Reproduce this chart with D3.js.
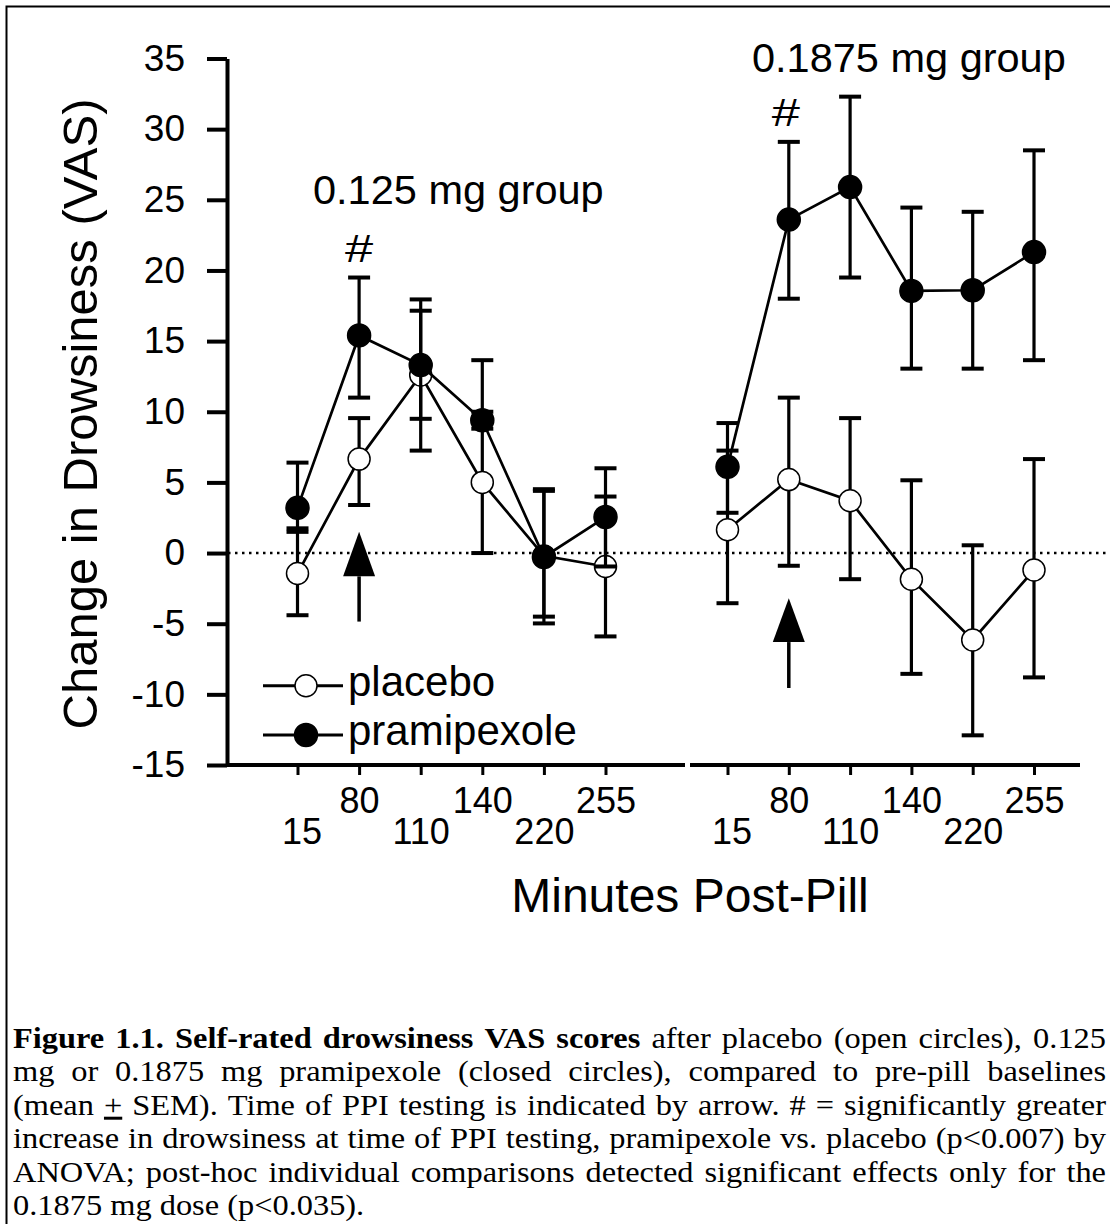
<!DOCTYPE html>
<html>
<head>
<meta charset="utf-8">
<script src="https://cdn.jsdelivr.net/npm/d3@7"></script>
<style>
body { margin: 0; background: #fff; }
svg text { font-family: "Liberation Sans", Arial, sans-serif; fill: #000; }
.caption text { font-family: "Liberation Serif", "Times New Roman", serif; }
</style>
</head>
<body>
<svg id="chart"></svg>
<script>
// minutes post-pill
var times = ["15", "80", "110", "140", "220", "255"];

// 0.125 mg group
var lowPlaceboMean = [-1.45, 6.65, 12.6, 5.0, -0.2, -0.95];
var lowPlaceboUp   = [2.95, 2.9, 5.35, 5.0, 4.6, 4.95];
var lowPlaceboDown = [2.95, 3.25, 5.35, 5.0, 4.3, 4.95];
var lowPramMean    = [3.2, 15.4, 13.3, 9.4, -0.28, 2.55];
var lowPramUp      = [3.2, 4.1, 3.85, 4.25, 4.8, 3.45];
var lowPramDown    = [1.45, 4.4, 3.8, 0.6, 4.7, 3.5];

// 0.1875 mg group
var highPlaceboMean = [1.65, 5.2, 3.7, -1.85, -6.15, -1.2];
var highPlaceboUp   = [5.6, 5.8, 5.85, 7.0, 6.7, 7.85];
var highPlaceboDown = [5.2, 6.1, 5.55, 6.7, 6.75, 7.6];
var highPramMean    = [6.1, 23.6, 25.9, 18.55, 18.6, 21.3];
var highPramUp      = [3.1, 5.5, 6.4, 5.9, 5.55, 7.2];
var highPramDown    = [3.25, 5.6, 6.4, 5.5, 5.55, 7.65];

var yTicks = d3.range(-15, 36, 5);
var groupLabels = ["0.125 mg group", "0.1875 mg group"];
var legendLabels = ["placebo", "pramipexole"];

// arrow (PPI testing) at 80 min: tip, base of head, end of stem
var arrowTip = [1.5, -3.2];
var arrowBase = [-1.65, -6.3];
var arrowEnd = [-4.85, -9.55];
var hashValue = [20.6, 30.2];

var captionLines = [
  [{t: "Figure 1.1. Self-rated drowsiness VAS scores", b: true}, {t: "after placebo (open circles), 0.125"}],
  [{t: "mg or 0.1875 mg pramipexole (closed circles), compared to pre-pill baselines"}],
  [{t: "(mean"}, {t: "+", u: true}, {t: "SEM). Time of PPI testing is indicated by arrow. # = significantly greater"}],
  [{t: "increase in drowsiness at time of PPI testing, pramipexole vs. placebo (p<0.007) by"}],
  [{t: "ANOVA; post-hoc individual comparisons detected significant effects only for the"}],
  [{t: "0.1875 mg dose (p<0.035)."}]
];

var width = 1110, height = 1224;

var svg = d3.select("#chart")
    .attr("width", width)
    .attr("height", height);

// frame round the figure
svg.append("rect")
    .attr("x", 6.5).attr("y", 6.5)
    .attr("width", 1120).attr("height", 1240)
    .attr("fill", "none").attr("stroke", "#000").attr("stroke-width", 2);

var y = d3.scaleLinear().domain([-15, 35]).range([765, 58.5]);

var xLow = d3.scalePoint().domain(times).range([297.5, 605.5]);
var xHigh = d3.scalePoint().domain(times).range([727.5, 1034]);

var panels = [
  {x: xLow, start: 227, end: 685,
   placebo: {mean: lowPlaceboMean, up: lowPlaceboUp, down: lowPlaceboDown},
   pram: {mean: lowPramMean, up: lowPramUp, down: lowPramDown}},
  {x: xHigh, start: 690, end: 1080,
   placebo: {mean: highPlaceboMean, up: highPlaceboUp, down: highPlaceboDown},
   pram: {mean: highPramMean, up: highPramUp, down: highPramDown}}
];

// zero line
svg.append("line")
    .attr("x1", 228).attr("x2", 1110)
    .attr("y1", y(0)).attr("y2", y(0))
    .attr("stroke", "#000").attr("stroke-width", 2.5)
    .attr("stroke-dasharray", "2.5,4.5");

// y axis
var yAxis = svg.append("g")
    .attr("transform", "translate(227,0)")
    .call(d3.axisLeft(y).tickValues(yTicks).tickFormat(function(d) { return String(d); })
      .tickSize(20).tickSizeOuter(0).tickPadding(22));
yAxis.attr("font-family", null).attr("font-size", null);
yAxis.select(".domain").attr("stroke-width", 4);
yAxis.selectAll(".tick line").attr("stroke-width", 4);
yAxis.selectAll(".tick text").style("font-size", "37px");

svg.append("text")
    .attr("transform", "translate(97,414) rotate(-90)")
    .attr("text-anchor", "middle")
    .style("font-size", "49px")
    .text("Change in Drowsiness (VAS)");

// x axes
panels.forEach(function(p) {
  var ax = svg.append("g")
      .attr("transform", "translate(0,765)")
      .call(d3.axisBottom(p.x).tickSize(10).tickSizeOuter(0));
  ax.attr("font-family", null).attr("font-size", null);
  ax.select(".domain").remove();
  ax.selectAll(".tick line").attr("stroke-width", 3);
  ax.selectAll(".tick text")
      .attr("dy", null)
      .attr("x", function(d, i) { return i === 0 ? 4 : 0; })
      .attr("y", function(d, i) { return i % 2 ? 48 : 79; })
      .style("font-size", "36px");
  ax.append("line")
      .attr("x1", p.start).attr("x2", p.end)
      .attr("stroke", "#000").attr("stroke-width", 4);
});

svg.append("text")
    .attr("x", 690).attr("y", 912)
    .attr("text-anchor", "middle")
    .style("font-size", "48px")
    .text("Minutes Post-Pill");

// series
var line = d3.line();

function drawSeries(p, s, filled) {
  var g = svg.append("g");
  var pts = times.map(function(t, i) { return [p.x(t), y(s.mean[i])]; });
  g.append("path")
      .attr("d", line(pts))
      .attr("fill", "none").attr("stroke", "#000").attr("stroke-width", 2.7);
  var bars = g.selectAll(".bar").data(times).enter().append("g");
  bars.append("line")
      .attr("x1", function(d) { return p.x(d); })
      .attr("x2", function(d) { return p.x(d); })
      .attr("y1", function(d, i) { return y(s.mean[i] + s.up[i]); })
      .attr("y2", function(d, i) { return y(s.mean[i] - s.down[i]); })
      .attr("stroke", "#000").attr("stroke-width", 3.2);
  [function(i) { return s.mean[i] + s.up[i]; }, function(i) { return s.mean[i] - s.down[i]; }].forEach(function(f) {
    bars.append("line")
        .attr("x1", function(d) { return p.x(d) - 11; })
        .attr("x2", function(d) { return p.x(d) + 11; })
        .attr("y1", function(d, i) { return y(f(i)); })
        .attr("y2", function(d, i) { return y(f(i)); })
        .attr("stroke", "#000").attr("stroke-width", 4);
  });
  g.selectAll("circle").data(times).enter().append("circle")
      .attr("cx", function(d) { return p.x(d); })
      .attr("cy", function(d, i) { return y(s.mean[i]); })
      .attr("r", filled ? 11.5 : 11)
      .attr("fill", filled ? "#000" : "#fff")
      .attr("stroke", "#000").attr("stroke-width", 1.5);
}

panels.forEach(function(p, k) {
  drawSeries(p, p.placebo, false);
  drawSeries(p, p.pram, true);

  // arrow
  var ax = p.x("80");
  svg.append("path")
      .attr("d", "M" + ax + "," + y(arrowTip[k]) + "L" + (ax + 16) + "," + y(arrowBase[k]) +
                 "L" + (ax - 16) + "," + y(arrowBase[k]) + "Z")
      .attr("fill", "#000");
  svg.append("line")
      .attr("x1", ax).attr("x2", ax)
      .attr("y1", y(arrowBase[k])).attr("y2", y(arrowEnd[k]))
      .attr("stroke", "#000").attr("stroke-width", 3.5);

  svg.append("text")
      .attr("transform", "translate(" + (ax - (k ? 3 : 0)) + "," + y(hashValue[k]) + ") scale(1.3,1)")
      .attr("text-anchor", "middle")
      .style("font-size", "39px")
      .text("#");
});

svg.append("text").attr("x", 313).attr("y", 204).style("font-size", "41.5px").text(groupLabels[0]);
svg.append("text").attr("x", 752).attr("y", 72).style("font-size", "41.5px").text(groupLabels[1]);

// legend
legendLabels.forEach(function(name, i) {
  var ly = 685.7 + i * 49.3;
  var lg = svg.append("g");
  lg.append("line").attr("x1", 263).attr("x2", 343).attr("y1", ly).attr("y2", ly)
      .attr("stroke", "#000").attr("stroke-width", 3);
  lg.append("circle").attr("cx", 306).attr("cy", ly).attr("r", i ? 11.5 : 11)
      .attr("fill", i ? "#000" : "#fff").attr("stroke", "#000").attr("stroke-width", 1.5);
  lg.append("text").attr("x", 348).attr("y", ly + 10).style("font-size", "42px").text(name);
});

// caption, justified between left and right edge (glyphs a little wide, as in the scan)
var capScale = 1.08;
var cap = svg.append("g").attr("class", "caption")
    .attr("transform", "scale(" + capScale + ",1)");
var capLeft = 13 / capScale, capRight = 1106 / capScale, capSize = 30;
captionLines.forEach(function(segs, li) {
  var words = [];
  segs.forEach(function(s) {
    s.t.split(" ").forEach(function(w) { words.push({t: w, b: s.b, u: s.u}); });
  });
  var base = 1048 + li * 33.4;
  var nodes = words.map(function(w) {
    var t = cap.append("text").attr("y", base)
        .style("font-size", capSize + "px")
        .style("font-weight", w.b ? "bold" : "normal")
        .text(w.t);
    if (w.u) t.style("text-decoration", "underline");
    return t;
  });
  var widths = nodes.map(function(n) { return n.node().getComputedTextLength(); });
  var total = d3.sum(widths);
  var gap = li < captionLines.length - 1 ? (capRight - capLeft - total) / (words.length - 1) : capSize * 0.25;
  var xPos = capLeft;
  nodes.forEach(function(n, i) {
    n.attr("x", xPos);
    xPos += widths[i] + gap;
  });
});
</script>
</body>
</html>
